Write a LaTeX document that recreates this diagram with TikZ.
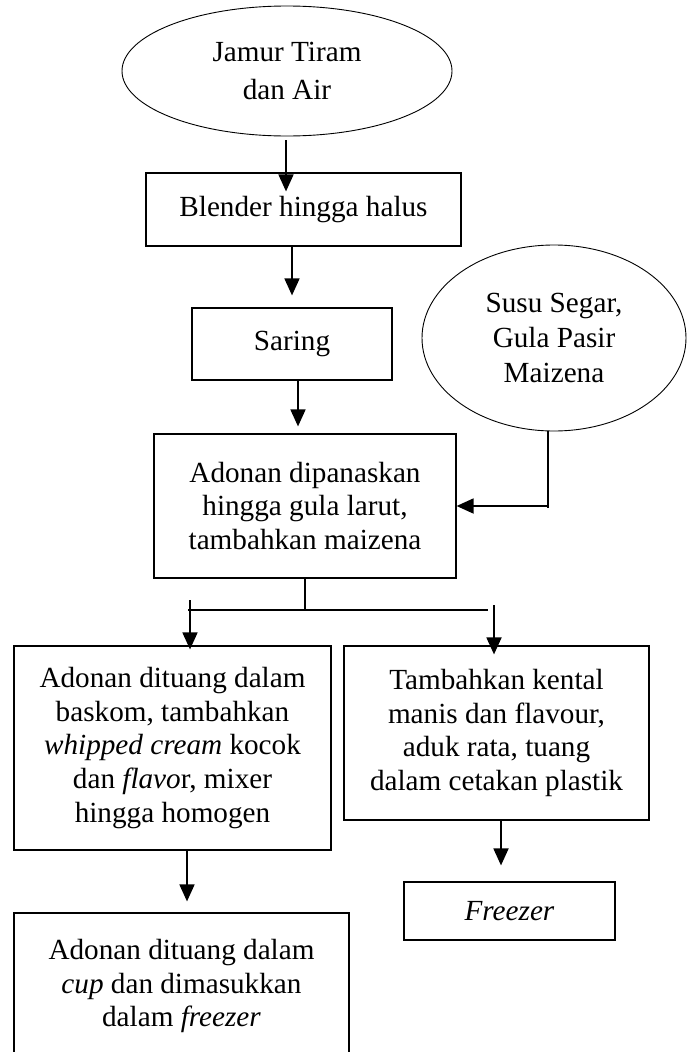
\documentclass[tikz,border=0pt]{standalone}
\usepackage{fontspec}
\setmainfont{Liberation Serif}
\usetikzlibrary{shapes.geometric,arrows.meta,calc}
\begin{document}
\begin{tikzpicture}[x=1pt,y=-1pt,
  box/.style={draw,line width=1.2pt,rectangle,inner sep=0pt,align=center,
    font=\fontsize{29.2}{33.6}\selectfont},
  oval/.style={draw,line width=0.9pt,ellipse,inner sep=0pt,align=center,
    font=\fontsize{29.2}{36}\selectfont},
  arr/.style={line width=1.8pt,-{Triangle[width=15pt,length=17pt]}},
  ln/.style={line width=1.8pt}]
\useasboundingbox (0,0) rectangle (692,1052);
\fill[white] (0,0) rectangle (692,1052);

% nodes
\node[oval,minimum width=330pt,minimum height=130pt,font=\fontsize{29.2}{38}\selectfont] (ell1) at (287,71) {Jamur Tiram\\dan Air};
\node[box,minimum width=315pt,minimum height=73pt] (blender) at (303.5,209.5) {Blender hingga halus};
\node[box,minimum width=200pt,minimum height=72pt] (saring) at (292,344) {Saring};
\node[oval,minimum width=264pt,minimum height=186pt,font=\fontsize{29.2}{35}\selectfont] (susu) at (554,338) {Susu Segar,\\Gula Pasir\\Maizena};
\node[box,minimum width=302pt,minimum height=144pt] (adonan) at (305,506) {Adonan dipanaskan\\hingga gula larut,\\tambahkan maizena};
\node[box,minimum width=317pt,minimum height=204pt] (left1) at (172.5,748) {Adonan dituang dalam\\baskom, tambahkan\\\textit{whipped cream} kocok\\dan \textit{flavo}r, mixer\\hingga homogen};
\node[box,minimum width=305pt,minimum height=174pt] (right1) at (496.5,733) {Tambahkan kental\\manis dan flavour,\\aduk rata, tuang\\dalam cetakan plastik};
\node[box,minimum width=211pt,minimum height=58pt] (freezer) at (509.5,911) {\textit{Freezer}};
\node[box,minimum width=335pt,minimum height=146pt] (left2) at (181.5,986) {Adonan dituang dalam\\\textit{cup} dan dimasukkan\\dalam \textit{freezer}};

% connectors
\draw[arr] ($(ell1.south)+(-1,4)$) -- ($(blender.north -| ell1.south)+(-1,19)$);
\draw[arr] (blender.south -| saring.north) -- ($(saring.north)+(0,-12)$);
\draw[arr] ($(saring.south)+(6,0)$) -- ($(saring.south |- adonan.north)+(6,-7)$);

\coordinate (s1) at ($(susu.south)+(-6,0)$);
\coordinate (s2) at (s1 |- 0,508);
\coordinate (s3) at (s1 |- adonan.east);
\draw[line width=1.3pt] (s1) -- (s2);
\draw[arr] (s3) -- (adonan.east);

\coordinate (j) at (adonan.south |- 0,610);
\coordinate (hl) at (188,610);
\coordinate (hr) at (488,610);
\draw[ln] (adonan.south) -- (j);
\draw[ln] (hl) -- (hr);
\coordinate (la) at (190,600);
\coordinate (ra) at (494,605);
\draw[arr] (la) -- ($(la |- left1.north)+(0,4)$);
\draw[arr] (ra) -- ($(ra |- right1.north)+(0,9)$);

\coordinate (lb) at (187,850);
\draw[arr] (lb) -- ($(lb |- left2.north)+(0,-11)$);
\coordinate (rb) at (501,820);
\draw[arr] (rb) -- ($(rb |- freezer.north)+(0,-16)$);
\end{tikzpicture}
\end{document}
